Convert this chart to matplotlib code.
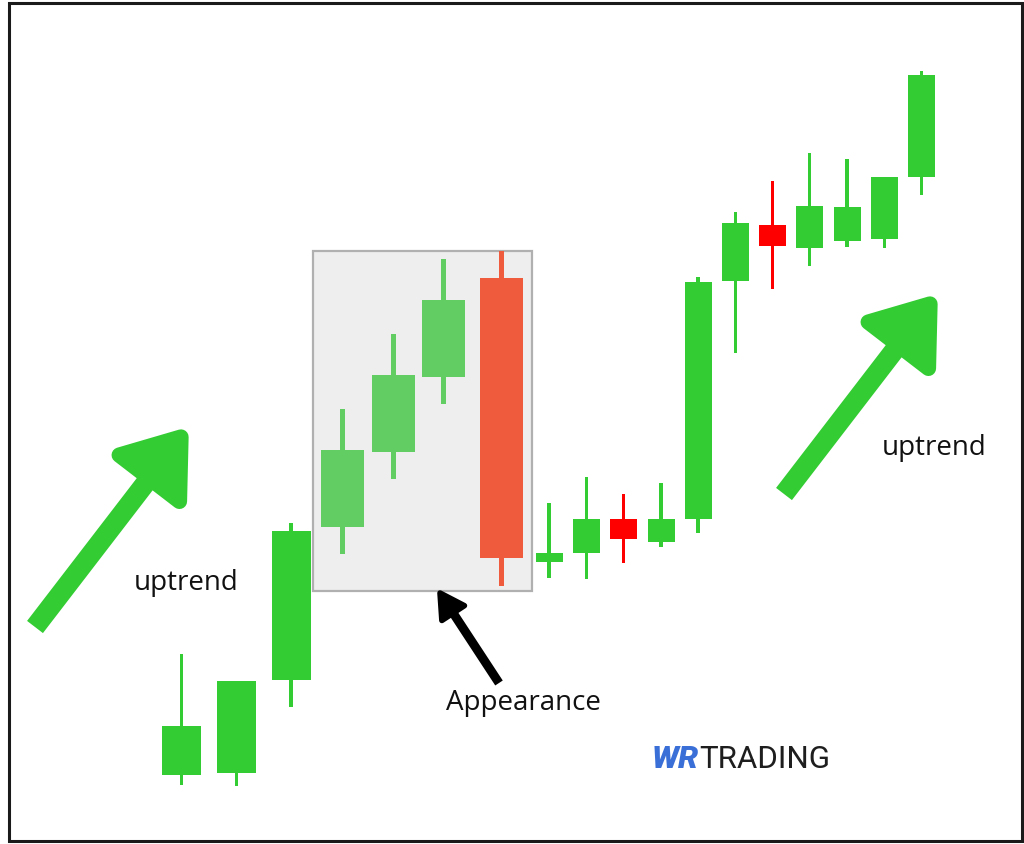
import matplotlib.pyplot as plt
import numpy as np
from matplotlib.patches import Polygon, Rectangle


# candle data (price units, x = time position)
x_pos = [181.5, 236.5, 291, 342.5, 393, 443.5, 501.5, 549, 586.5, 623.7,
         661, 698, 735.3, 772.7, 809.7, 847, 884.2, 921.3]
opens = [69, 71, 164, 317, 392, 467, 566, 282, 291, 325, 302, 325, 563, 619, 596, 603, 605, 667]
highs = [190, 163, 321, 435, 510, 585, 593, 341, 367, 350, 361, 567, 632, 663, 691, 685, 667, 773]
lows = [59, 58, 137, 290, 365, 440, 258, 266, 265, 281, 297, 311, 491, 555, 578, 597, 596, 649]
closes = [118, 163, 313, 394, 469, 544, 286, 291, 325, 305, 325, 562, 621, 598, 638, 637, 667, 769]
pattern_idx = [3, 4, 5, 6]  # candles inside the highlighted box

GREEN = "#33cc33"
RED = "#ff0000"
PAT_GREEN = "#62cd62"
PAT_RED = "#ef5b3d"

plt.rcParams["font.family"] = ["Open Sans", "DejaVu Sans"]

fig = plt.figure(figsize=(10.24, 8.44), dpi=100)
ax = fig.add_axes([0, 0, 1, 1])
ax.set_xlim(0, 1024)
ax.set_ylim(0, 844)
ax.axis("off")

# frame around the picture
ax.add_patch(Rectangle((9, 3), 1013, 838, fill=False, edgecolor="#1a1a1a", lw=2.2, zorder=1))

# highlighted pattern box
ax.add_patch(Rectangle((313, 253), 219, 340, facecolor="#eeeeee", edgecolor="#b0b0b0", lw=1.6, zorder=1))

o = np.array(opens, dtype=float)
c = np.array(closes, dtype=float)
h = np.array(highs, dtype=float)
lo = np.array(lows, dtype=float)
idx = np.arange(len(o))
up = c >= o
in_pat = np.isin(idx, pattern_idx)

colors = np.where(in_pat, np.where(up, PAT_GREEN, PAT_RED), np.where(up, GREEN, RED))
body_w = np.where(idx < 3, 39, np.where(idx < 7, 43, 27))
wick_w = np.where(in_pat, 5, 3.2)

ax.bar(x_pos, h - lo, bottom=lo, width=wick_w, color=colors, zorder=2)
ax.bar(x_pos, np.abs(c - o), bottom=np.minimum(o, c), width=body_w, color=colors, zorder=3)


def draw_arrow(start, tip, shaft_w, head_len, head_w, color, round_lw):
    start = np.array(start, dtype=float)
    tip = np.array(tip, dtype=float)
    d = tip - start
    d /= np.hypot(*d)
    n = np.array([-d[1], d[0]])
    base = tip - d * head_len
    shaft = [start + n * shaft_w / 2, base + n * shaft_w / 2,
             base - n * shaft_w / 2, start - n * shaft_w / 2]
    ax.add_patch(Polygon(shaft, closed=True, facecolor=color, edgecolor="none", zorder=4))
    head = [tip, base + n * head_w / 2, base - n * head_w / 2]
    ax.add_patch(Polygon(head, closed=True, facecolor=color, edgecolor=color,
                         lw=round_lw, joinstyle="round", zorder=4))


# trend arrows
draw_arrow((35, 217), (181, 407), 20, 52, 76, GREEN, 11)
draw_arrow((784, 350), (930, 540), 20, 52, 76, GREEN, 11)
# pointer to the pattern
draw_arrow((499, 161), (440, 251), 9, 24, 27, "black", 4)

ax.text(186, 261, "uptrend", fontsize=20, color="#111111", ha="center", va="center", zorder=5)
ax.text(934, 396, "uptrend", fontsize=20, color="#111111", ha="center", va="center", zorder=5)
ax.text(523, 141, "Appearance", fontsize=20, color="#111111", ha="center", va="center", zorder=5)

# logo
ax.text(652, 85, "WR", fontsize=23, fontweight="heavy", fontstyle="italic", color="#3a6fd8",
        family=["Roboto", "DejaVu Sans"], ha="left", va="center", zorder=5)
ax.text(699, 85, "TRADING", fontsize=22.5, fontweight="normal", color="#1e1e1e",
        family=["Roboto", "DejaVu Sans"], ha="left", va="center", zorder=5)

fig.savefig("out.png", dpi=100)
